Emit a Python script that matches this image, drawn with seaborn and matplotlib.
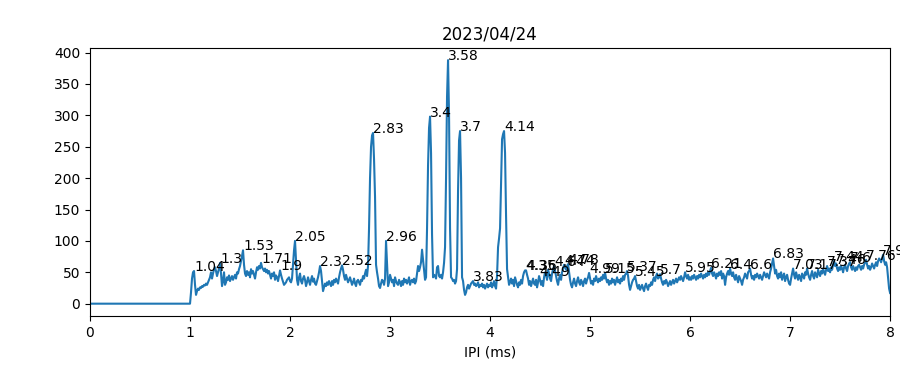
import numpy as np
import matplotlib
matplotlib.use("Agg")
import matplotlib.pyplot as plt
import seaborn as sns

# IPI histogram, 0.01 ms bins from 0 to 8 ms
title = "2023/04/24"
bin_width = 0.01

# nothing below 1 ms
counts_below_1ms = [0] * 100

# counts from 1.00 ms to 8.00 ms, one row per 0.1 ms
counts_from_1ms = [
    0, 18, 40, 50, 52, 30, 14, 20, 24, 22,
    26, 25, 28, 27, 30, 29, 32, 30, 34, 38,
    42, 50, 40, 48, 55, 58, 52, 44, 50, 56,
    65, 48, 28, 36, 50, 30, 34, 42, 38, 45,
    36, 40, 44, 38, 42, 46, 40, 50, 48, 55,
    60, 68, 76, 85, 62, 48, 44, 52, 46, 50,
    42, 55, 48, 52, 46, 40, 50, 58, 54, 60,
    56, 65, 58, 55, 52, 56, 50, 54, 48, 52,
    46, 40, 48, 44, 50, 38, 45, 42, 36, 44,
    53, 46, 40, 35, 30, 32, 34, 38, 40, 42,
    36, 34, 40, 62, 85, 100, 70, 38, 30, 42,
    48, 36, 32, 40, 44, 38, 28, 34, 42, 36,
    30, 38, 44, 35, 40, 32, 30, 36, 42, 50,
    60, 52, 36, 20, 26, 32, 28, 34, 30, 36,
    32, 28, 36, 30, 38, 34, 40, 36, 32, 42,
    50, 56, 61, 54, 44, 38, 46, 40, 34, 38,
    42, 36, 30, 34, 40, 32, 28, 36, 38, 34,
    30, 38, 36, 44, 40, 48, 54, 44, 60, 120,
    200, 250, 268, 272, 230, 170, 62, 50, 40, 28,
    25, 32, 38, 36, 30, 40, 100, 62, 28, 34,
    46, 40, 34, 38, 28, 42, 36, 32, 30, 38,
    34, 28, 36, 30, 40, 34, 38, 32, 36, 42,
    30, 36, 38, 34, 40, 32, 36, 48, 60, 52,
    58, 66, 86, 70, 55, 38, 42, 120, 220, 280,
    298, 240, 110, 42, 46, 44, 40, 58, 60, 44,
    42, 46, 40, 50, 65, 90, 200, 330, 388, 300,
    120, 42, 40, 36, 38, 32, 36, 55, 180, 260,
    275, 200, 42, 36, 22, 14, 18, 26, 30, 24,
    28, 32, 34, 36, 30, 32, 28, 30, 34, 26,
    30, 28, 32, 26, 30, 24, 28, 32, 26, 30,
    28, 34, 26, 30, 36, 28, 24, 45, 90, 104,
    120, 190, 262, 270, 275, 240, 140, 55, 42, 30,
    34, 40, 32, 38, 28, 42, 36, 30, 26, 34,
    30, 38, 32, 44, 50, 53, 53, 46, 40, 30,
    36, 28, 34, 40, 32, 30, 38, 26, 34, 44,
    38, 30, 36, 28, 42, 50, 46, 38, 54, 48,
    40, 36, 48, 55, 60, 52, 44, 36, 30, 40,
    46, 38, 50, 56, 62, 58, 54, 60, 63, 50,
    38, 30, 26, 34, 40, 32, 28, 36, 42, 34,
    30, 38, 34, 28, 36, 40, 32, 38, 42, 49,
    40, 32, 36, 30, 40, 36, 44, 38, 34, 40,
    36, 42, 38, 46, 40, 49, 40, 34, 38, 30,
    36, 32, 40, 34, 38, 30, 36, 42, 34, 38,
    32, 40, 36, 44, 38, 46, 48, 52, 44, 30,
    22, 28, 34, 38, 40, 44, 36, 28, 24, 30,
    22, 26, 30, 24, 20, 28, 32, 26, 22, 30,
    28, 34, 30, 38, 42, 36, 44, 48, 40, 42,
    47, 40, 34, 30, 36, 32, 38, 34, 28, 32,
    36, 30, 34, 38, 32, 36, 40, 34, 38, 42,
    38, 44, 40, 36, 42, 50, 44, 40, 46, 38,
    42, 38, 44, 40, 46, 42, 38, 44, 40, 46,
    42, 48, 44, 40, 46, 42, 48, 44, 50, 46,
    52, 57, 48, 44, 50, 46, 40, 48, 44, 50,
    46, 52, 40, 48, 44, 30, 42, 48, 52, 46,
    56, 48, 44, 50, 42, 38, 46, 40, 34, 44,
    40, 36, 30, 38, 42, 48, 44, 40, 50, 52,
    56, 46, 40, 44, 38, 46, 42, 48, 44, 40,
    46, 42, 38, 44, 50, 46, 42, 48, 44, 40,
    50, 56, 64, 72, 60, 48, 54, 44, 40, 48,
    42, 50, 38, 44, 48, 36, 42, 46, 38, 32,
    30, 40, 48, 56, 46, 40, 50, 44, 38, 46,
    42, 36, 48, 44, 40, 50, 46, 56, 48, 42,
    38, 46, 52, 44, 40, 50, 46, 42, 54, 48,
    44, 52, 48, 56, 50, 46, 54, 60, 52, 56,
    50, 58, 54, 62, 68, 60, 64, 56, 52, 58,
    54, 60, 56, 50, 58, 62, 56, 52, 60, 64,
    66, 58, 54, 60, 56, 52, 58, 54, 60, 62,
    58, 54, 60, 56, 62, 66, 70, 62, 56, 60,
    54, 58, 64, 60, 56, 62, 66, 60, 68, 72,
    70, 66, 72, 78, 68, 62, 66, 58, 40, 24,
    17,
]

# peaks that got a label (ms)
peak_ipi = [1.04, 1.3, 1.53, 1.71, 1.9, 2.05, 2.3, 2.52, 2.83, 2.96,
            3.4, 3.58, 3.7, 3.83, 4.14, 4.35, 4.36, 4.49, 4.64, 4.74,
            4.78, 4.99, 5.15, 5.37, 5.45, 5.7, 5.95, 6.21, 6.4, 6.6,
            6.83, 7.03, 7.17, 7.37, 7.44, 7.46, 7.6, 7.76, 7.93]

counts = np.array(counts_below_1ms + counts_from_1ms, dtype=float)
ipi = np.round(np.arange(len(counts)) * bin_width, 2)

fig, ax = plt.subplots(figsize=(9, 3.66), dpi=100)
sns.lineplot(x=ipi, y=counts, ax=ax, color="tab:blue")

# label each peak with its IPI
for p in peak_ipi:
    i = int(round(p / bin_width))
    ax.text(ipi[i], counts[i], str(round(p, 2)), fontsize=10)

ax.set_xlim(0, 8)
ax.set_xlabel("IPI (ms)")
ax.set_ylabel("")
ax.set_title(title)

plt.subplots_adjust(left=0.1, right=0.989, top=0.869, bottom=0.137)
plt.savefig("out.png", dpi=100)
